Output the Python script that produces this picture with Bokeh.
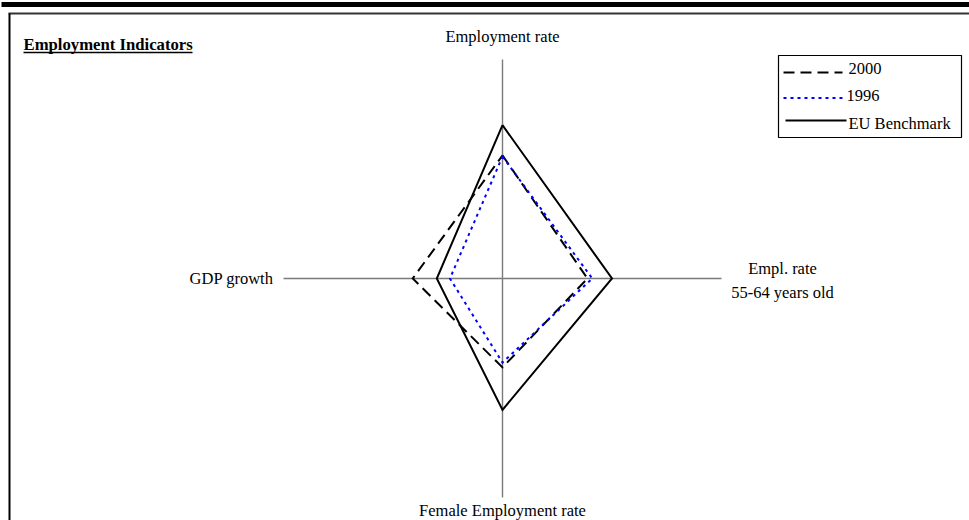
import numpy as np
from bokeh.plotting import figure
from bokeh.models import Range1d
from bokeh.core.properties import value
from bokeh.embed import file_html
from bokeh.resources import INLINE

# ---- data ----
axis_labels = ["Employment rate", "Empl. rate\n55-64 years old", "Female Employment rate", "GDP growth"]
axis_max = [100.0, 100.0, 100.0, 10.0]
series_names = ["2000", "1996", "EU Benchmark"]
values_2000 = [56.2, 38.8, 40.6, 4.1]
values_1996 = [55.7, 41.0, 38.4, 2.4]
values_eu = [70.0, 50.0, 60.0, 3.0]
title_text = "Employment Indicators"

# ---- geometry (page pixel space) ----
CX, CY, R = 502.0, 278.0, 219.0
angles = np.deg2rad([90.0, 0.0, -90.0, 180.0])
FONT = value("Liberation Serif")
TOP_OFF = 15.0  # distance from baseline to text top

W, H = 969, 520
p = figure(width=W, height=H, output_backend="svg", toolbar_location=None,
           x_range=Range1d(0, W), y_range=Range1d(H, 0),
           x_axis_type=None, y_axis_type=None, min_border=0,
           outline_line_color=None, background_fill_color="white",
           border_fill_color="white")
p.xgrid.visible = False
p.ygrid.visible = False


def polygon(vals):
    r = R * np.array(vals) / np.array(axis_max)
    xs = CX + r * np.cos(angles)
    ys = CY - r * np.sin(angles)
    return list(xs) + [xs[0]], list(ys) + [ys[0]]


# frame decorations
p.quad(left=[1], right=[W], top=[1.5], bottom=[6.5], fill_color="black", line_color=None)
p.segment(x0=[8], y0=[13], x1=[W], y1=[13], line_color="#333333", line_width=2)
p.segment(x0=[9], y0=[13], x1=[9], y1=[H], line_color="black", line_width=2)

# radar axes
ax_x1 = CX + R * np.cos(angles)
ax_y1 = CY - R * np.sin(angles)
p.segment(x0=[CX] * 4, y0=[CY] * 4, x1=list(ax_x1), y1=list(ax_y1),
          line_color="#7a7a7a", line_width=1.4)

styles = {
    "EU Benchmark": dict(line_color="black", line_width=2, line_dash="solid"),
    "2000": dict(line_color="black", line_width=2, line_dash="11 6"),
    "1996": dict(line_color="#0000ff", line_width=2, line_dash="3 4"),
}
series_vals = {"2000": values_2000, "1996": values_1996, "EU Benchmark": values_eu}
for name in ["EU Benchmark", "2000", "1996"]:
    xs, ys = polygon(series_vals[name])
    p.line(xs, ys, line_join="miter", **styles[name])

txt = dict(text_font=FONT, text_font_size="16.5px", text_color="black", text_baseline="top")

# axis labels
p.text(x=[CX], y=[41 - TOP_OFF], text=[axis_labels[0]], text_align="center", **txt)
p.text(x=[782], y=[258], text=[axis_labels[1]], text_align="center",
       text_line_height=1.27, **txt)
p.text(x=[CX], y=[515 - TOP_OFF], text=[axis_labels[2]], text_align="center", **txt)
p.text(x=[273], y=[283 - TOP_OFF], text=[axis_labels[3]], text_align="right", **txt)

# title with underline
p.text(x=[23], y=[49 - TOP_OFF], text=[title_text], text_align="left",
       text_font=FONT, text_font_size="16.7px", text_color="black", text_baseline="top",
       text_font_style="bold")
p.segment(x0=[23], y0=[52], x1=[192], y1=[52], line_color="black", line_width=1.3)

# legend box
p.quad(left=[778], right=[961], top=[55], bottom=[137], fill_color="white",
       line_color="black", line_width=1.2)
leg_line_y = [72, 97.5, 120]
leg_line_x0 = [783, 783, 785]
leg_line_x1 = [842, 846, 846]
leg_text_base = [77, 104, 128]
for i, name in enumerate(series_names):
    p.line([leg_line_x0[i], leg_line_x1[i]], [leg_line_y[i], leg_line_y[i]], **styles[name])
p.text(x=[848, 846, 848], y=[b - TOP_OFF for b in leg_text_base], text=series_names,
       text_align="left", **txt)

open("out.html", "w").write(file_html(p, INLINE))
